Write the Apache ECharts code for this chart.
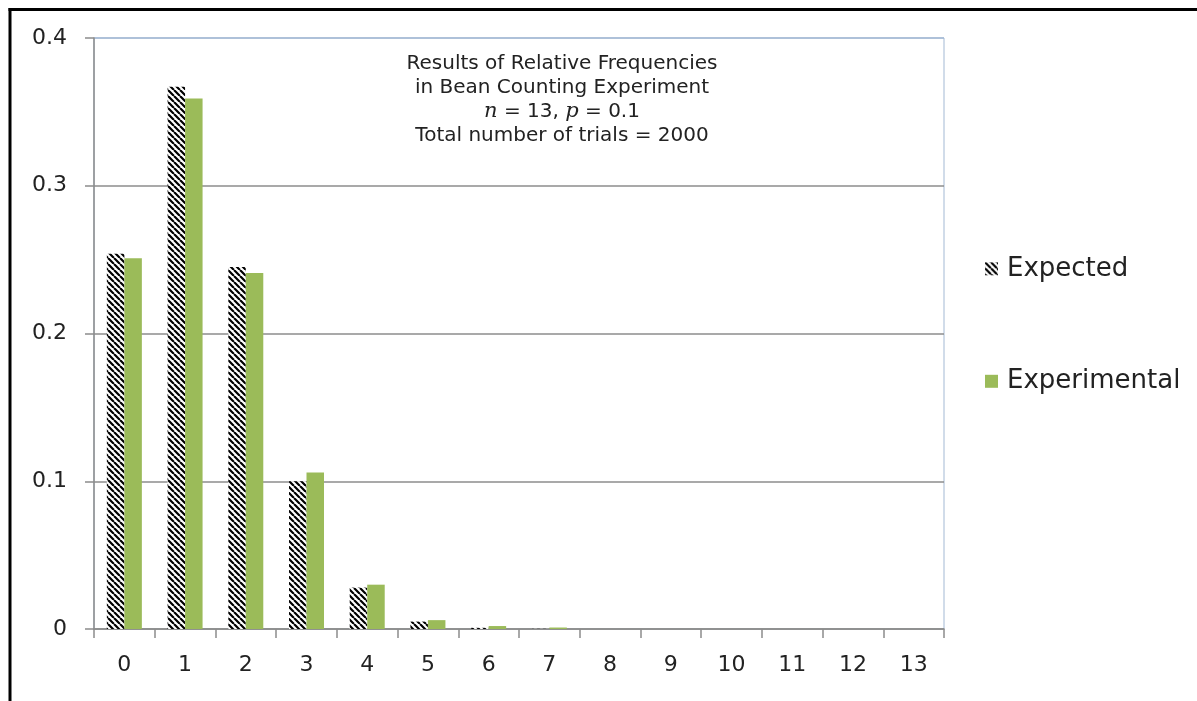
<!DOCTYPE html>
<html>

<head>
    <title>Bean Counting Experiment</title>
    <script src="https://cdn.jsdelivr.net/npm/echarts@6/dist/echarts.min.js"></script>
    <style>
        body { margin: 0; background: #fff; }
    </style>
</head>

<body>
    <div id="chart" style="width: 1197px; height: 701px;"></div>

    <script>
        // categories: number of beans
        var categories = ['0', '1', '2', '3', '4', '5', '6', '7', '8', '9', '10', '11', '12', '13'];

        // relative frequencies
        var expected = [0.254, 0.367, 0.245, 0.100, 0.028, 0.005, 0.0008, 0.0001, 0, 0, 0, 0, 0, 0];
        var experimental = [0.251, 0.359, 0.241, 0.106, 0.030, 0.006, 0.002, 0.001, 0, 0, 0, 0, 0, 0];

        var yTicks = [0, 0.1, 0.2, 0.3, 0.4];

        var chart = echarts.init(document.getElementById('chart'));

        // diagonal hatch pattern for the expected bars
        var hatch = document.createElement('canvas');
        hatch.width = 6;
        hatch.height = 6;
        var ctx = hatch.getContext('2d');
        ctx.fillStyle = '#fff';
        ctx.fillRect(0, 0, 6, 6);
        ctx.strokeStyle = '#000';
        ctx.lineWidth = 2.2;
        ctx.beginPath();
        for (var k = -6; k <= 12; k += 6) {
            ctx.moveTo(k, 0);
            ctx.lineTo(k + 6, 6);
        }
        ctx.stroke();

        var font = 'DejaVu Sans';

        var option = {
            animation: false,
            title: {
                text: 'Results of Relative Frequencies\nin Bean Counting Experiment\n{i|n} = 13, {i|p} = 0.1\nTotal number of trials = 2000',
                left: 557,
                top: 47,
                textAlign: 'center',
                textStyle: {
                    fontFamily: font,
                    fontSize: 20,
                    fontWeight: 'normal',
                    color: '#222',
                    lineHeight: 24,
                    rich: {
                        i: {
                            fontFamily: 'DejaVu Serif',
                            fontStyle: 'italic',
                            fontSize: 21,
                            color: '#222',
                            lineHeight: 24
                        }
                    }
                }
            },
            legend: {
                orient: 'vertical',
                left: 980,
                top: 238,
                itemWidth: 13,
                itemHeight: 13,
                itemGap: 61,
                icon: 'rect',
                textStyle: {
                    fontFamily: font,
                    fontSize: 26,
                    color: '#222',
                    padding: [0, 0, 0, 4]
                },
                data: ['Expected', 'Experimental']
            },
            grid: {
                left: 94,
                right: 253,
                top: 38,
                bottom: 72,
                show: true,
                borderColor: '#a3b9d4',
                borderWidth: 1
            },
            xAxis: {
                type: 'category',
                data: categories,
                boundaryGap: true,
                axisLine: { lineStyle: { color: '#8c8c8c', width: 1.5 } },
                axisTick: { show: true, length: 9, inside: false, lineStyle: { color: '#8c8c8c', width: 1.5 } },
                axisLabel: { fontFamily: font, fontSize: 22, color: '#222', margin: 14 }
            },
            yAxis: {
                type: 'value',
                min: yTicks[0],
                max: yTicks[yTicks.length - 1],
                interval: 0.1,
                axisLine: { show: true, lineStyle: { color: '#8c8c8c', width: 1.5 } },
                axisTick: { show: true, length: 9, lineStyle: { color: '#8c8c8c', width: 1.5 } },
                axisLabel: {
                    fontFamily: font,
                    fontSize: 22,
                    color: '#222',
                    margin: 27,
                    formatter: function (v) { return String(+v.toFixed(1)); }
                },
                splitLine: {
                    show: true,
                    lineStyle: { color: ['#8c8c8c', '#8c8c8c', '#8c8c8c', '#8c8c8c', '#a3b9d4'], width: 1.5 }
                }
            },
            series: [
                {
                    name: 'Expected',
                    type: 'bar',
                    data: expected,
                    barWidth: 17.5,
                    barGap: '0%',
                    itemStyle: { color: { image: hatch, repeat: 'repeat' } }
                },
                {
                    name: 'Experimental',
                    type: 'bar',
                    data: experimental,
                    barWidth: 17.5,
                    barGap: '0%',
                    itemStyle: { color: '#9bbb59' }
                }
            ],
            graphic: [
                {
                    type: 'line',
                    shape: { x1: 8.5, y1: 9.5, x2: 1197, y2: 9.5 },
                    style: { stroke: '#000', lineWidth: 3 }
                },
                {
                    type: 'line',
                    shape: { x1: 10, y1: 8, x2: 10, y2: 701 },
                    style: { stroke: '#000', lineWidth: 3 }
                }
            ]
        };

        chart.setOption(option);
    </script>
</body>

</html>
